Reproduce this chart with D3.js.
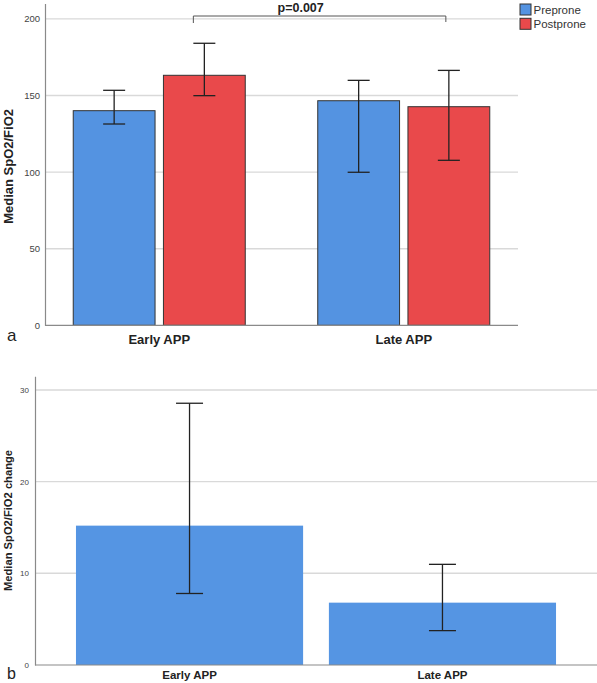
<!DOCTYPE html>
<html><head><meta charset="utf-8">
<script src="https://cdn.jsdelivr.net/npm/d3@7"></script>
<style>
html,body{margin:0;padding:0;background:#fff;}
svg{display:block;font-family:"Liberation Sans",Arial,sans-serif;}
</style></head>
<body><svg id="c" width="597" height="683"></svg>
<script>
// ---- Data ----
const categories = ["Early APP", "Late APP"];
const series = ["Preprone", "Postprone"];
const preproneMedian = [140.1, 146.6];
const preproneLow = [131.4, 99.9];
const preproneHigh = [153.4, 159.9];
const postproneMedian = [163.2, 142.7];
const postproneLow = [149.9, 107.7];
const postproneHigh = [184.1, 166.4];
const ticksA = [0, 50, 100, 150, 200];
const pText = "p=0.007";

const changeMedian = [15.2, 6.8];
const changeLow = [7.8, 3.75];
const changeHigh = [28.55, 10.98];
const ticksB = [0, 10, 20, 30];

const colors = {Preprone: "#5493E1", Postprone: "#E9494B"};

const svg = d3.select("#c");
const gridColor = "#d9d9d9", axisColor = "#8a8a8a";

// ================= Panel a =================
const yA = d3.scaleLinear().domain([0, 210]).range([325.3, 3.6]);
const xA = d3.scaleBand().domain(categories).range([45, 518]).paddingInner(0.2965).paddingOuter(0.1155);
const xAin = d3.scaleBand().domain(series).range([0, xA.bandwidth()]).paddingInner(0.093);

const gA = svg.append("g");
// grid
gA.selectAll("line.grid").data(ticksA.filter(d => d > 0)).join("line")
  .attr("x1", 45).attr("x2", 518)
  .attr("y1", d => yA(d)).attr("y2", d => yA(d))
  .attr("stroke", gridColor).attr("stroke-width", 1.4);

const dataA = [];
categories.forEach((c, i) => {
  dataA.push({cat: c, s: "Preprone", v: preproneMedian[i], lo: preproneLow[i], hi: preproneHigh[i]});
  dataA.push({cat: c, s: "Postprone", v: postproneMedian[i], lo: postproneLow[i], hi: postproneHigh[i]});
});
gA.selectAll("rect.bar").data(dataA).join("rect")
  .attr("x", d => xA(d.cat) + xAin(d.s))
  .attr("width", xAin.bandwidth())
  .attr("y", d => yA(d.v))
  .attr("height", d => yA(0) - yA(d.v))
  .attr("fill", d => colors[d.s])
  .attr("stroke", "#333").attr("stroke-width", 1);

// error bars
const ebA = gA.selectAll("g.eb").data(dataA).join("g");
ebA.each(function(d) {
  const cx = xA(d.cat) + xAin(d.s) + xAin.bandwidth() / 2;
  const g = d3.select(this);
  g.append("line").attr("x1", cx).attr("x2", cx).attr("y1", yA(d.hi)).attr("y2", yA(d.lo));
  g.append("line").attr("x1", cx - 11).attr("x2", cx + 11).attr("y1", yA(d.hi)).attr("y2", yA(d.hi));
  g.append("line").attr("x1", cx - 11).attr("x2", cx + 11).attr("y1", yA(d.lo)).attr("y2", yA(d.lo));
});
ebA.selectAll("line").attr("stroke", "#222").attr("stroke-width", 1.3);

// axes
const axA = gA.append("g").attr("transform", "translate(45,0)")
  .call(d3.axisLeft(yA).tickValues(ticksA).tickSize(0).tickPadding(5));
axA.select(".domain").attr("stroke", axisColor).attr("stroke-width", 1.2);
axA.selectAll("text").attr("font-size", 9.5).attr("fill", "#444").attr("font-family", "Liberation Sans, Arial, sans-serif");
gA.append("line").attr("x1", 45).attr("x2", 518).attr("y1", yA(0)).attr("y2", yA(0))
  .attr("stroke", axisColor).attr("stroke-width", 1.2);

const bxA = gA.append("g").attr("transform", `translate(0,${yA(0)})`)
  .call(d3.axisBottom(xA).tickSize(0).tickPadding(9));
bxA.select(".domain").remove();
bxA.selectAll("text").attr("font-size", 13).attr("font-weight", "bold").attr("fill", "#222")
  .attr("font-family", "Liberation Sans, Arial, sans-serif");

gA.append("text").attr("transform", `translate(13,${(yA(0) + yA(210)) / 2 + 2}) rotate(-90)`)
  .attr("text-anchor", "middle").attr("font-size", 13).attr("font-weight", "bold").attr("fill", "#222")
  .text("Median SpO2/FiO2");

// significance bracket
const bL = xA(categories[0]) + xAin("Postprone") + xAin.bandwidth() / 2 - 11;
const bR = xA(categories[1]) + xAin("Postprone") + xAin.bandwidth() / 2 - 3;
const bY = 16;
gA.append("path").attr("d", `M${bL},${bY + 7}V${bY}H${bR}V${bY + 6}`)
  .attr("fill", "none").attr("stroke", "#555").attr("stroke-width", 1);
gA.append("text").attr("x", bL + (bR - bL) * 0.425).attr("y", 12)
  .attr("text-anchor", "middle").attr("font-size", 12.5).attr("font-weight", "bold").attr("fill", "#222")
  .text(pText);

// legend
const leg = gA.append("g").attr("transform", "translate(520,4)");
series.forEach((s, i) => {
  leg.append("rect").attr("x", 0).attr("y", i * 14.3).attr("width", 11).attr("height", 11)
    .attr("fill", colors[s]).attr("stroke", "#333").attr("stroke-width", 1);
  leg.append("text").attr("x", 13.5).attr("y", i * 14.3 + 10).attr("font-size", 11.5).attr("fill", "#333")
    .text(s);
});

gA.append("text").attr("x", 7).attr("y", 341).attr("font-size", 17).attr("fill", "#222").text("a");

// ================= Panel b =================
const yB = d3.scaleLinear().domain([0, 31.5]).range([665, 376.2]);
const xB = d3.scaleBand().domain(categories).range([35, 597]).paddingInner(0.102).paddingOuter(0.162);
const gB = svg.append("g");

gB.selectAll("line.grid").data(ticksB.filter(d => d > 0)).join("line")
  .attr("x1", 35).attr("x2", 597)
  .attr("y1", d => yB(d)).attr("y2", d => yB(d))
  .attr("stroke", gridColor).attr("stroke-width", 1.4);

const dataB = categories.map((c, i) => ({cat: c, v: changeMedian[i], lo: changeLow[i], hi: changeHigh[i]}));
gB.selectAll("rect.bar").data(dataB).join("rect")
  .attr("x", d => xB(d.cat)).attr("width", xB.bandwidth())
  .attr("y", d => yB(d.v)).attr("height", d => yB(0) - yB(d.v))
  .attr("fill", "#5595E3");

const ebB = gB.selectAll("g.eb").data(dataB).join("g");
ebB.each(function(d) {
  const cx = xB(d.cat) + xB.bandwidth() / 2;
  const g = d3.select(this);
  g.append("line").attr("x1", cx).attr("x2", cx).attr("y1", yB(d.hi)).attr("y2", yB(d.lo));
  g.append("line").attr("x1", cx - 13.5).attr("x2", cx + 13.5).attr("y1", yB(d.hi)).attr("y2", yB(d.hi));
  g.append("line").attr("x1", cx - 13.5).attr("x2", cx + 13.5).attr("y1", yB(d.lo)).attr("y2", yB(d.lo));
});
ebB.selectAll("line").attr("stroke", "#222").attr("stroke-width", 1.3);

const axB = gB.append("g").attr("transform", "translate(35,0)")
  .call(d3.axisLeft(yB).tickValues(ticksB).tickSize(0).tickPadding(6));
axB.select(".domain").attr("stroke", axisColor).attr("stroke-width", 1.2);
axB.selectAll("text").attr("font-size", 8).attr("fill", "#444").attr("font-family", "Liberation Sans, Arial, sans-serif");
gB.append("line").attr("x1", 35).attr("x2", 597).attr("y1", yB(0)).attr("y2", yB(0))
  .attr("stroke", axisColor).attr("stroke-width", 1.2);

const bxB = gB.append("g").attr("transform", `translate(0,${yB(0)})`)
  .call(d3.axisBottom(xB).tickSize(0).tickPadding(6));
bxB.select(".domain").remove();
bxB.selectAll("text").attr("font-size", 11.5).attr("font-weight", "bold").attr("fill", "#222")
  .attr("font-family", "Liberation Sans, Arial, sans-serif");

gB.append("text").attr("transform", `translate(12,${520.5}) rotate(-90)`)
  .attr("text-anchor", "middle").attr("font-size", 11.2).attr("font-weight", "bold").attr("fill", "#222")
  .text("Median SpO2/FiO2 change");

gB.append("text").attr("x", 7).attr("y", 678.5).attr("font-size", 16).attr("fill", "#222").text("b");
</script></body></html>
